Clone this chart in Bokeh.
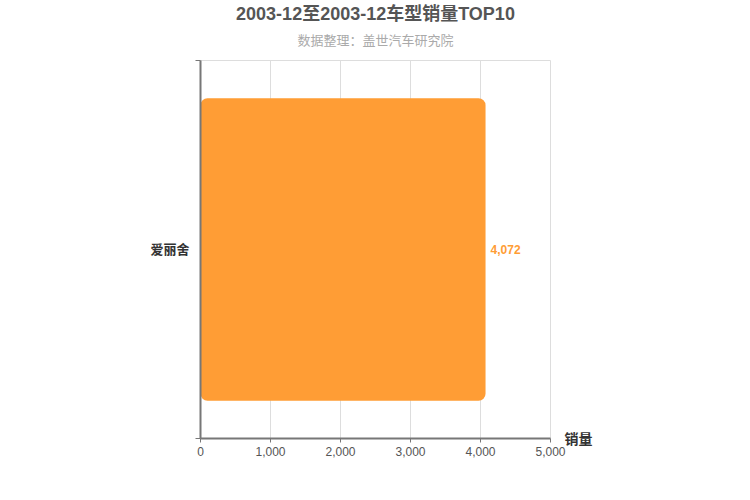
from bokeh.plotting import figure
from bokeh.models import Range1d, FixedTicker, NumeralTickFormatter, LinearAxis, ColumnDataSource
from bokeh.core.properties import value
from bokeh.embed import file_html
from bokeh.resources import INLINE

models = ["爱丽舍"]
sales = [4072]
x_ticks = [0, 1000, 2000, 3000, 4000, 5000]
title_text = "2003-12至2003-12车型销量TOP10"
subtitle_text = "数据整理：盖世汽车研究院"
x_label = "销量"

FONT = "Liberation Sans, Noto Sans CJK SC"
ORANGE = "#FF9D35"

ypos = [i + 0.5 for i in range(len(models))]
src = ColumnDataSource(dict(y=ypos, x=sales, name=models,
                            lab=[f"{v:,}" for v in sales]))

x_max = x_ticks[-1]
p = figure(width=734, height=484, output_backend="svg", toolbar_location=None,
           x_range=Range1d(0, x_max), y_range=Range1d(0, len(models)),
           min_border_left=200, min_border_right=184, min_border_top=60,
           min_border_bottom=46)
p.title.visible = False


def text_axis(txt, size, color, style, standoff):
    mid = x_max / 2
    return LinearAxis(ticker=FixedTicker(ticks=[mid]),
                      major_label_overrides={mid: txt},
                      major_label_standoff=standoff,
                      major_label_text_font=FONT,
                      major_label_text_font_size=size,
                      major_label_text_font_style=style,
                      major_label_text_color=color,
                      major_tick_out=0, major_tick_in=0,
                      axis_line_color=None, major_tick_line_color=None,
                      minor_tick_line_color=None)


p.add_layout(text_axis(subtitle_text, "13px", "#aaaaaa", "normal", 13), "above")
p.add_layout(text_axis(title_text, "18px", "#555555", "bold", 6), "above")

p.hbar(y="y", right="x", left=0, height=0.8, source=src, color=ORANGE,
       line_color=None, border_radius=7)
p.text(x="x", y="y", text="lab", source=src, x_offset=5, text_baseline="middle",
       text_align="left", text_color=ORANGE, text_font_style="bold",
       text_font_size="12px", text_font=value(FONT))

xax = p.below[0]
xax.ticker = FixedTicker(ticks=x_ticks)
xax.formatter = NumeralTickFormatter(format="0,0")
xax.major_label_text_font = FONT
xax.major_label_text_font_size = "12px"
xax.major_label_text_color = "#555555"
xax.axis_line_color = "#777777"
xax.axis_line_width = 2
xax.major_tick_line_color = "#777777"
xax.major_tick_out = 4
xax.major_tick_in = 0
xax.minor_tick_line_color = None
xax.major_label_standoff = 4

yax = p.left[0]
yax.ticker = FixedTicker(ticks=ypos, minor_ticks=list(range(len(models) + 1)))
yax.major_label_overrides = {y: m for y, m in zip(ypos, models)}
yax.major_label_text_font = FONT
yax.major_label_text_font_size = "13px"
yax.major_label_text_font_style = "bold"
yax.major_label_text_color = "#333333"
yax.major_tick_line_color = None
yax.major_label_standoff = 5
yax.minor_tick_out = 5
yax.minor_tick_in = 0
yax.minor_tick_line_color = "#777777"
yax.axis_line_color = "#777777"
yax.axis_line_width = 2

# x-axis title placed at the right end of the x axis
name_axis = LinearAxis(ticker=FixedTicker(ticks=[0]),
                       major_label_overrides={0: x_label},
                       major_label_orientation="horizontal",
                       major_label_standoff=8,
                       major_label_text_font=FONT,
                       major_label_text_font_size="14px",
                       major_label_text_font_style="bold",
                       major_label_text_color="#333333",
                       axis_line_color=None, major_tick_line_color=None,
                       minor_tick_line_color=None)
p.add_layout(name_axis, "right")

p.xgrid.ticker = FixedTicker(ticks=x_ticks)
p.xgrid.grid_line_color = "#dddddd"
p.ygrid.grid_line_color = None
p.outline_line_color = "#dddddd"

open("out.html", "w").write(file_html(p, INLINE))
